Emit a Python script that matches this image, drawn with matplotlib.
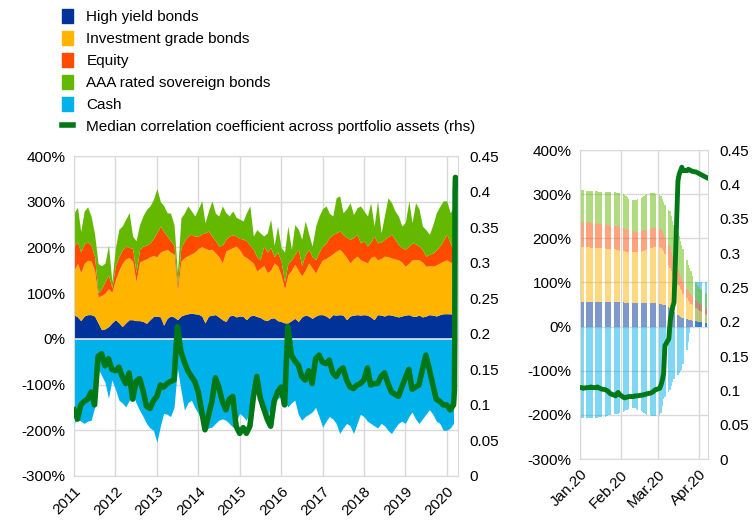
import numpy as np
import pandas as pd
import matplotlib
matplotlib.use("Agg")
import matplotlib.pyplot as plt
from matplotlib.patches import Patch
from matplotlib.lines import Line2D
from matplotlib.ticker import MultipleLocator, FuncFormatter
import matplotlib.dates as mdates

plt.rcParams['font.family'] = ['Liberation Sans', 'DejaVu Sans']
plt.rcParams['font.size'] = 11

# ---- left panel: monthly, Jan 2011 - Mar 2020 (% of portfolio) ----
hy_m = [
    53, 48, 40, 50, 53, 53, 50, 35, 20, 22, 27, 35,
    42, 35, 27, 35, 42, 42, 40, 40, 38, 34, 42, 49,
    50, 48, 30, 45, 50, 48, 42, 50, 53, 55, 56, 55,
    54, 50, 35, 50, 52, 53, 48, 42, 38, 50, 52, 48,
    50, 49, 42, 50, 52, 49, 47, 42, 40, 45, 46, 40,
    38, 35, 35, 40, 45, 38, 48, 52, 50, 45, 50, 53,
    53, 50, 45, 53, 52, 53, 52, 42, 50, 52, 53, 52,
    53, 52, 48, 42, 53, 52, 50, 53, 52, 50, 48, 50,
    52, 53, 50, 49, 52, 48, 50, 53, 52, 50, 53, 55,
    55, 55, 53]
ig_m = [
    97, 117, 105, 115, 119, 117, 100, 57, 75, 78, 83, 67,
    88, 115, 138, 140, 136, 128, 85, 128, 134, 141, 138, 133,
    130, 142, 163, 151, 140, 137, 63, 120, 125, 127, 130, 135,
    144, 152, 163, 145, 144, 135, 132, 124, 154, 146, 148, 155,
    145, 133, 136, 122, 114, 99, 108, 118, 105, 105, 120, 120,
    102, 73, 105, 110, 118, 112, 90, 98, 116, 110, 94, 107,
    120, 126, 136, 133, 140, 143, 136, 136, 116, 123, 128, 121,
    117, 114, 130, 139, 120, 124, 131, 127, 125, 125, 125, 118,
    107, 112, 123, 124, 121, 120, 109, 107, 107, 112, 113, 115,
    118, 113, 113]
eq_m = [
    55, 47, 45, 43, 40, 35, 30, 8, 15, 25, 30, 10,
    30, 30, 30, 28, 22, 28, 20, 27, 31, 30, 30, 38,
    52, 57, 42, 29, 25, 20, 13, 30, 37, 43, 43, 35,
    27, 28, 34, 41, 29, 27, 23, 39, 26, 29, 28, 22,
    25, 36, 37, 33, 30, 32, 18, 43, 45, 50, 14, 30,
    30, 17, 25, 23, 22, 46, 22, 35, 30, 25, 29, 30,
    30, 34, 41, 42, 40, 40, 40, 44, 52, 47, 48, 37,
    45, 37, 34, 44, 37, 36, 37, 44, 52, 43, 33, 32,
    37, 38, 37, 35, 30, 27, 22, 25, 29, 33, 37, 45,
    56, 42, 30]
aaa_m = [
    71, 76, 45, 72, 77, 63, 50, 65, 50, 41, 65, 13,
    40, 60, 52, 59, 76, 27, 70, 55, 67, 78, 81, 85,
    97, 53, 57, 51, 60, 45, 27, 65, 61, 66, 51, 44,
    60, 72, 22, 44, 77, 60, 66, 86, 58, 44, 52, 41,
    42, 40, 61, 86, 29, 59, 59, 22, 42, 62, 25, 57,
    30, 65, 82, 23, 65, 44, 58, 73, 34, 23, 74, 79,
    82, 81, 53, 41, 77, 77, 48, 63, 80, 50, 58, 81,
    65, 66, 86, 22, 92, 20, 52, 85, 69, 62, 63, 47,
    59, 99, 44, 90, 82, 52, 58, 44, 62, 81, 87, 87,
    73, 66, 94]
cash_m = [
    -185, -175, -180, -185, -180, -178, -150, -65, -80, -95, -130, -90,
    -110, -134, -140, -149, -135, -120, -140, -156, -170, -185, -195, -200,
    -226, -190, -163, -165, -170, -150, -65, -112, -156, -140, -134, -150,
    -163, -180, -200, -195, -193, -185, -178, -175, -178, -185, -193, -180,
    -163, -170, -178, -155, -120, -110, -150, -165, -171, -150, -134, -130,
    -127, -135, -149, -140, -134, -165, -178, -170, -165, -160, -150, -170,
    -193, -180, -170, -175, -185, -207, -195, -185, -190, -207, -185, -165,
    -170, -180, -185, -190, -195, -185, -190, -200, -207, -195, -185, -180,
    -185, -170, -160, -175, -185, -175, -165, -155, -165, -180, -185, -200,
    -200, -195, -185]
corr_m = [
    0.093, 0.08, 0.10, 0.105, 0.108, 0.118, 0.10, 0.168, 0.172, 0.155, 0.165, 0.15,
    0.148, 0.153, 0.14, 0.13, 0.145, 0.108, 0.133, 0.137, 0.12, 0.098, 0.095, 0.106,
    0.112, 0.128, 0.125, 0.13, 0.133, 0.135, 0.21, 0.175, 0.16, 0.148, 0.14, 0.133,
    0.118, 0.09, 0.065, 0.085, 0.105, 0.138, 0.125, 0.105, 0.093, 0.108, 0.112, 0.07,
    0.06, 0.068, 0.06, 0.07, 0.11, 0.14, 0.11, 0.095, 0.08, 0.07, 0.105, 0.118,
    0.125, 0.10, 0.21, 0.17, 0.162, 0.156, 0.14, 0.135, 0.148, 0.13, 0.165, 0.17,
    0.16, 0.158, 0.163, 0.145, 0.14, 0.148, 0.152, 0.135, 0.125, 0.123, 0.128, 0.13,
    0.135, 0.152, 0.128, 0.13, 0.13, 0.14, 0.145, 0.13, 0.118, 0.115, 0.112, 0.125,
    0.138, 0.15, 0.122, 0.125, 0.128, 0.15, 0.17, 0.15, 0.128, 0.108, 0.105, 0.10,
    0.10, 0.093, 0.10]
corr_tail_dates = ['2020-03-09', '2020-03-12', '2020-03-15', '2020-03-18', '2020-04-07']
corr_tail = [0.12, 0.19, 0.40, 0.42, 0.415]

# ---- right panel: business days, Jan - Apr 2020 ----
hy_d = [
    56, 56, 56, 56, 56, 56, 56, 56, 56, 56, 55, 55, 55, 55, 55, 55, 55, 55, 55, 55, 55, 55, 55,
    55, 54, 54, 54, 54, 54, 54, 54, 54, 54, 54, 54, 54, 54, 54, 54, 54, 53, 53, 53,
    52, 51, 50, 50, 48, 44, 42, 39, 35, 33, 27, 25, 22, 20, 19, 17, 16, 15, 14, 13, 12, 11,
    11, 10, 10, 9, 9]
ig_d = [
    125, 125, 125, 124, 124, 124, 123, 123, 122, 122, 123, 123, 122, 122, 121, 121, 120, 120, 120, 120, 119, 118, 117,
    116, 117, 116, 115, 115, 114, 114, 114, 114, 115, 116, 117, 118, 120, 121, 123, 124, 127, 128, 128,
    128, 127, 125, 122, 117, 96, 91, 86, 79, 75, 68, 66, 63, 60, 55, 47, 43, 40, 37, 35, 31, 29,
    27, 25, 23, 19, 18]
eq_d = [
    56, 56, 55, 56, 56, 55, 56, 55, 56, 55, 55, 54, 55, 54, 55, 54, 55, 54, 54, 53, 54, 54, 54,
    53, 51, 50, 50, 49, 49, 48, 47, 47, 46, 46, 46, 46, 45, 45, 45, 45, 44, 43, 42,
    42, 43, 41, 38, 35, 45, 49, 45, 46, 42, 33, 31, 30, 28, 26, 22, 21, 21, 21, 20, 18, 18,
    17, 17, 17, 17, 16]
aaa_d = [
    72, 72, 73, 72, 72, 73, 72, 73, 73, 74, 73, 74, 74, 75, 74, 75, 75, 75, 75, 76, 75, 76, 76,
    76, 76, 76, 74, 72, 70, 70, 71, 72, 74, 76, 77, 78, 79, 80, 80, 80, 79, 78, 78,
    77, 75, 72, 72, 76, 80, 80, 80, 80, 80, 84, 83, 79, 77, 75, 64, 60, 57, 53, 46, 38, 37,
    35, 34, 34, 30, 30]
cash_d = [
    -207, -207, -207, -207, -207, -206, -206, -206, -206, -206, -205, -205, -205, -204, -203, -202, -201, -200, -199, -198, -197, -197, -196,
    -194, -192, -190, -188, -186, -184, -184, -185, -186, -188, -192, -194, -196, -198, -200, -201, -202, -203, -203, -202,
    -200, -196, -180, -165, -160, -148, -143, -135, -125, -118, -110, -105, -100, -98, -85, -52, -35, -14, 0, 0, 100, 100,
    100, 100, 100, 100, 100]
corr_d = [
    0.104, 0.104, 0.103, 0.104, 0.104, 0.104, 0.105, 0.104, 0.104, 0.105, 0.104, 0.103, 0.102, 0.101, 0.100, 0.099, 0.097, 0.095, 0.093, 0.092, 0.095, 0.097, 0.094,
    0.090, 0.089, 0.090, 0.090, 0.091, 0.091, 0.091, 0.092, 0.092, 0.092, 0.093, 0.093, 0.094, 0.094, 0.095, 0.096, 0.097, 0.098, 0.100, 0.101,
    0.103, 0.108, 0.115, 0.125, 0.165, 0.175, 0.200, 0.212, 0.222, 0.228, 0.405, 0.415, 0.420, 0.425, 0.420, 0.420, 0.422, 0.421, 0.420, 0.419, 0.418, 0.417,
    0.416, 0.415, 0.414, 0.411, 0.410]

labels = ["High yield bonds", "Investment grade bonds", "Equity",
          "AAA rated sovereign bonds", "Cash"]
colors = ["#003299", "#FFB400", "#FF4B00", "#65B800", "#00B1EA"]
line_color = "#007816"
grid_color = "#D9D9D9"

months = pd.date_range("2011-01-01", periods=len(hy_m), freq="MS")
days = pd.bdate_range("2020-01-01", periods=len(hy_d))

fig = plt.figure(figsize=(7.53, 5.21), dpi=100)
ax1 = fig.add_axes([0.0983, 0.0864, 0.51, 0.614])
ax2 = fig.add_axes([0.770, 0.119, 0.170, 0.593])


def style(ax, ax_r):
    ax.set_ylim(-300, 400)
    ax.yaxis.set_major_locator(MultipleLocator(100))
    ax.yaxis.set_major_formatter(FuncFormatter(lambda v, _: f"{v:.0f}%"))
    ax.grid(True, color=grid_color, lw=1)
    ax.set_axisbelow(True)
    ax.tick_params(length=0, pad=6)
    for s in ax.spines.values():
        s.set_color(grid_color)
    ax_r.set_ylim(0, 0.45)
    ax_r.yaxis.set_major_locator(MultipleLocator(0.05))
    ax_r.yaxis.set_major_formatter(FuncFormatter(lambda v, _: f"{round(v, 2):g}"))
    ax_r.tick_params(length=0, pad=8)
    for s in ax_r.spines.values():
        s.set_visible(False)
    for lab in ax.get_xticklabels():
        lab.set_rotation(45)
        lab.set_ha("right")
        lab.set_rotation_mode("anchor")


# left panel: stacked areas
base = np.zeros(len(months))
for vals, c in zip([hy_m, ig_m, eq_m, aaa_m], colors[:4]):
    top = base + np.array(vals)
    ax1.fill_between(months, base, top, color=c, lw=0)
    base = top
ax1.fill_between(months, 0, cash_m, color=colors[4], lw=0)
ax1.axhline(0, color="#E6E6E6", lw=1.2)
ax1.set_xlim(pd.Timestamp("2011-01-01"), pd.Timestamp("2020-04-10"))
ax1.xaxis.set_major_locator(mdates.YearLocator())
ax1.xaxis.set_major_formatter(mdates.DateFormatter("%Y"))
ax1r = ax1.twinx()
corr_x = list(months) + list(pd.to_datetime(corr_tail_dates))
corr_y = corr_m + corr_tail
ax1r.plot(corr_x, corr_y, color=line_color, lw=4, solid_joinstyle="round")
style(ax1, ax1r)

# right panel: daily bars
ax2.bar(days, cash_d, width=1.0, color=colors[4], alpha=0.5, lw=0)
base = np.zeros(len(days))
for vals, c in zip([hy_d, ig_d, eq_d, aaa_d], colors[:4]):
    ax2.bar(days, vals, bottom=base, width=1.0, color=c, alpha=0.5, lw=0)
    base = base + np.array(vals)
ax2.set_xlim(pd.Timestamp("2019-12-31 12:00"), pd.Timestamp("2020-04-08"))
ax2.xaxis.set_major_locator(mdates.MonthLocator())
ax2.xaxis.set_major_formatter(mdates.DateFormatter("%b.%y"))
ax2r = ax2.twinx()
ax2r.plot(days, corr_d, color=line_color, lw=3.5, solid_joinstyle="round")
style(ax2, ax2r)

handles = [Patch(color=c) for c in colors]
handles.append(Line2D([0], [0], color=line_color, lw=4))
fig.legend(handles, labels + ["Median correlation coefficient across portfolio assets (rhs)"],
           loc="upper left", bbox_to_anchor=(0.07, 1.0), frameon=False,
           handlelength=0.7, handleheight=1.0, handletextpad=0.9,
           labelspacing=0.45, borderaxespad=0.2)

fig.savefig("out.png", dpi=100)
